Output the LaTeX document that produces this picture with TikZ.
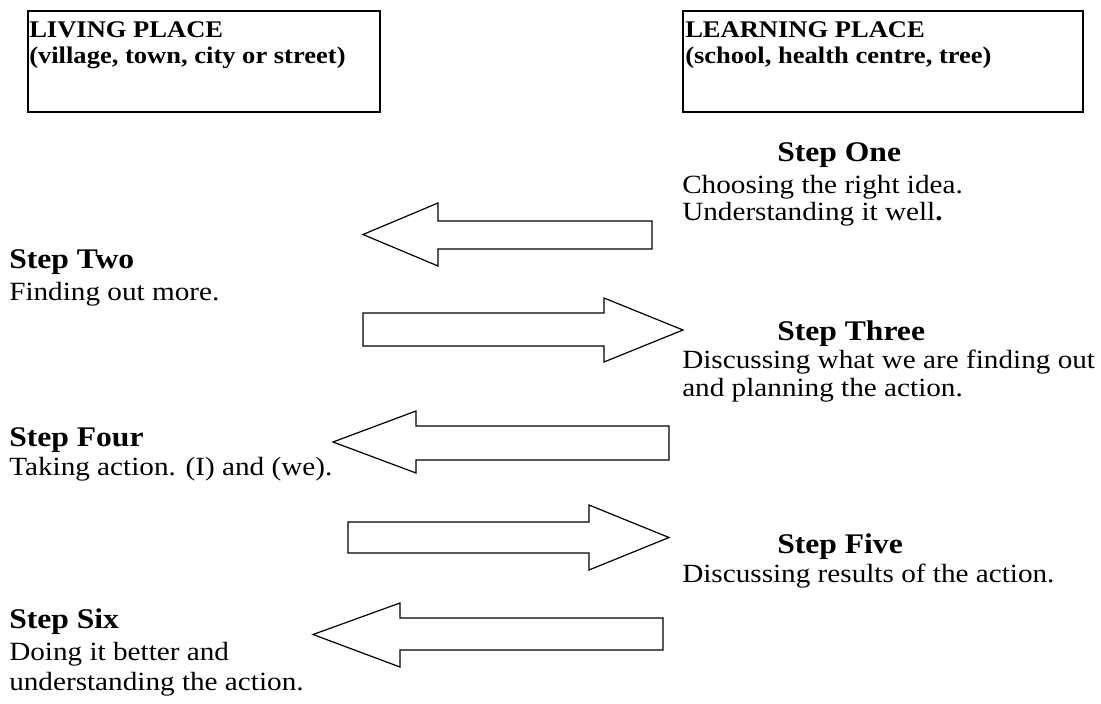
\documentclass[tikz,border=0pt]{standalone}
\usepackage{fontspec}
\setmainfont{Liberation Serif}
\newcommand\vsq[1]{\scalebox{1}[0.9]{#1}}
\begin{document}
\begin{tikzpicture}[x=0.75pt,y=-0.75pt,
  placebox/.style={draw, line width=1.3pt},
  blockarrow/.style={draw, line width=0.9pt, line join=miter},
  boxtext/.style={anchor=base west, inner sep=0pt, font=\fontsize{19.9}{24}\selectfont\bfseries},
  headtext/.style={anchor=base west, inner sep=0pt, font=\fontsize{23.7}{28}\selectfont\bfseries},
  bodytext/.style={anchor=base west, inner sep=0pt, font=\fontsize{21.9}{26}\selectfont}]
\useasboundingbox (0,0) rectangle (1101,704);
% place boxes
\draw[placebox] (28,11) rectangle (380,112);
\draw[placebox] (683,11) rectangle (1083,112);
\node[boxtext] (lp1) at (29,37) {\vsq{LIVING PLACE}};
\node[boxtext] (lp2) at (29,63) {\vsq{(village, town, city or street)}};
\node[boxtext] (ln1) at (685,37) {\vsq{LEARNING PLACE}};
\node[boxtext] (ln2) at (685,63) {\vsq{(school, health centre, tree)}};
% block arrows
\draw[blockarrow] (652,221) -- (438,221) -- (438,203) -- (363,234.5) -- (438,266) -- (438,249) -- (652,249) -- cycle;
\draw[blockarrow] (363,313) -- (604,313) -- (604,298) -- (683,330) -- (604,362) -- (604,346) -- (363,346) -- cycle;
\draw[blockarrow] (669,426) -- (416,426) -- (416,411) -- (333,442) -- (416,473) -- (416,460) -- (669,460) -- cycle;
\draw[blockarrow] (348,522) -- (589,522) -- (589,505) -- (669,537.5) -- (589,570) -- (589,553) -- (348,553) -- cycle;
\draw[blockarrow] (663,618) -- (400,618) -- (400,603) -- (313,634.5) -- (400,667) -- (400,650) -- (663,650) -- cycle;
% step one
\node[headtext] (s1h) at (777,161) {\vsq{Step One}};
\node[bodytext] (s1a) at (682,193) {\vsq{Choosing the right idea.}};
\node[bodytext] (s1b) at (682,220) {\vsq{Understanding it well\textbf{.}}};
% step two
\node[headtext] (s2h) at (9,268) {\vsq{Step Two}};
\node[bodytext] (s2a) at (9,300) {\vsq{Finding out more.}};
% step three
\node[headtext] (s3h) at (777,340) {\vsq{Step Three}};
\node[bodytext] (s3a) at (682,368) {\vsq{Discussing what we are finding out}};
\node[bodytext] (s3b) at (682,396) {\vsq{and planning the action.}};
% step four
\node[headtext] (s4h) at (9,446) {\vsq{Step Four}};
\node[bodytext] (s4a) at (9,475) {\vsq{Taking action. (I) and (we).}};
% step five
\node[headtext] (s5h) at (777,553) {\vsq{Step Five}};
\node[bodytext] (s5a) at (682,582) {\vsq{Discussing results of the action.}};
% step six
\node[headtext] (s6h) at (9,628) {\vsq{Step Six}};
\node[bodytext] (s6a) at (9,660) {\vsq{Doing it better and}};
\node[bodytext] (s6b) at (9,690) {\vsq{understanding the action.}};
\end{tikzpicture}
\end{document}
